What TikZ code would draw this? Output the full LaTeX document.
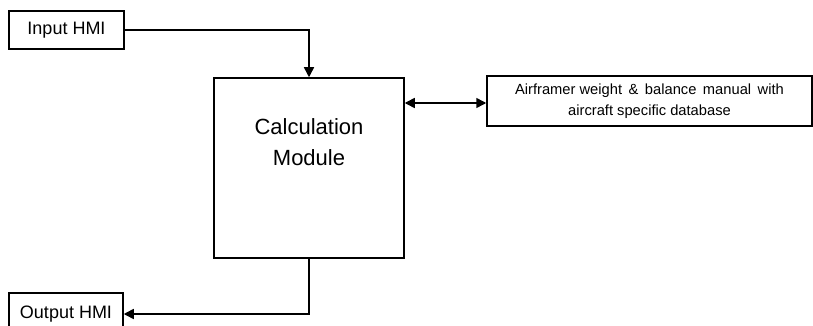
\documentclass[tikz,border=0pt]{standalone}
\usepackage{fontspec}
\setmainfont{Liberation Sans}
\usetikzlibrary{arrows.meta}

\tikzset{
  blk/.style={rectangle,draw,line width=1.5pt,inner sep=0pt},
  flow/.style={line width=1.5pt,-{Triangle[length=10pt,width=10pt]}},
  both/.style={line width=1.5pt,{Triangle[length=10pt,width=10pt]}-{Triangle[length=10pt,width=10pt]}},
}

\begin{document}
\begin{tikzpicture}[x=1pt,y=-1pt,font=\fontsize{18pt}{21pt}\selectfont]
        \clip (0,0) rectangle (813,326);
        \node (IN) at (66.5,30) [blk,minimum width=115pt,minimum height=38pt] {Input HMI};
        \node (CALC) at (309,168) [blk,minimum width=190pt,minimum height=180pt] {};
        \node (CALCTXT) at (309,142) [align=center,font=\fontsize{22pt}{31pt}\selectfont] {Calculation \\ Module};
        \node (DB) at (649.5,101) [blk,minimum width=325pt,minimum height=50pt,align=center,font=\fontsize{14.7pt}{21pt}\selectfont] {Airframer weight \,\&\, balance \,manual \,with \\ aircraft specific database};
        \node (OUT) at (66,314) [blk,minimum width=114pt,minimum height=42pt] {Output HMI};
        \draw [flow] (IN.east) -| (CALC.north);
        \draw [both] ([yshift=-2pt]DB.west -| CALC.east) -- ([yshift=-2pt]DB.west);
        \draw [flow] (CALC.south) |- (OUT.east);
      \end{tikzpicture}
\end{document}
